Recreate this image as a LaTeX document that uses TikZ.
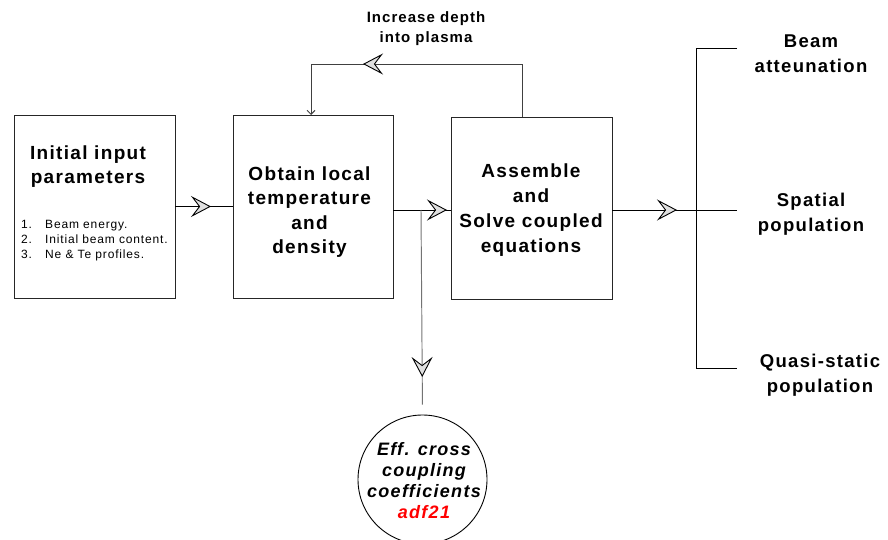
\documentclass[tikz,border=0pt]{standalone}
\usepackage{fontspec}
\setmainfont{Liberation Sans}
\newfontfamily\lsp{Liberation Sans}[LetterSpace=7]
\usetikzlibrary{arrows.meta,decorations.markings}
\begin{document}
\begin{tikzpicture}[x=1pt,y=-1pt,
  hd/.tip={Stealth[length=20pt,width=21pt,inset=8pt,color=black,fill=black!12,line width=0.9pt]},
  box/.style={draw=black!85,line width=0.95pt,rectangle,inner sep=0pt,outer sep=0pt},
  conn/.style={draw=black,line width=0.95pt},
  midarrow/.style={postaction={decorate},decoration={markings,mark=at position #1 with {\arrow{hd}}}},
  big/.style={font=\lsp\bfseries\fontsize{19}{24.5}\selectfont,align=center,inner sep=0pt,anchor=base},
  side/.style={font=\lsp\bfseries\fontsize{18.5}{25}\selectfont,align=center,inner sep=0pt,anchor=base},
  lbl/.style={font=\lsp\bfseries\fontsize{15}{20}\selectfont,align=center,inner sep=0pt,anchor=base},
  lst/.style={font=\lsp\fontsize{12}{15}\selectfont,align=left,inner sep=0pt,anchor=base west},
  circtxt/.style={font=\lsp\bfseries\itshape\fontsize{18}{21}\selectfont,align=center,inner sep=0pt,anchor=base}
]
\useasboundingbox (0,0) rectangle (888,540);

% boxes
\node[box,minimum width=161pt,minimum height=183pt] (b1) at (94.5,206.5) {};
\node[box,minimum width=160pt,minimum height=183pt] (b2) at (313,206.5) {};
\node[box,minimum width=161pt,minimum height=182pt] (b3) at (531.5,208) {};
\node[draw=black,line width=0.9pt,circle,minimum size=129pt,inner sep=0pt] (circ) at (422.5,479.5) {};

% texts (anchor = baseline of the last line)
\node[big] (t1) at (88,184) {Initial input\\parameters};
\node[lst] (l1) at (21,258) {\makebox[24pt][l]{1.}Beam energy.\\\makebox[24pt][l]{2.}Initial beam content.\\\makebox[24pt][l]{3.}Ne \& Te profiles.};
\node[big] (t2) at (309.5,253.5) {Obtain local\\temperature\\and\\density};
\node[big,font=\lsp\bfseries\fontsize{19}{25}\selectfont] (t3) at (531,252) {Assemble\\and\hspace*{15pt}\\Solve coupled\\equations};
\node[lbl] (fbl) at (426,43) {Increase depth\\into plasma};
\node[circtxt] (ct) at (424,518) {Eff. cross\\coupling\\coefficients\\{\color{red}adf21}};
\node[side] (o1) at (811,73) {Beam\\atteunation};
\node[side] (o2) at (811,231) {Spatial\\population};
\node[side] (o3) at (820,392) {Quasi-static\\population};

% coordinates
\coordinate (fbR) at (522,64);
\coordinate (fbL) at (311,64);
\coordinate (jn) at (421,210);
\coordinate (oe) at (737,210);
\coordinate (bt) at (737,48);
\coordinate (bb) at (737,368);
\coordinate (bx1) at (696,48);
\coordinate (bx2) at (696,368);

% connectors
\draw[conn,midarrow=36pt] (b1.east) -- (b2.west);
\draw[conn,midarrow=54pt] (b2.east |- jn) -- (b3.west |- jn);
\draw[draw=black!55,line width=0.95pt,shorten >=10pt,midarrow=167pt] (jn) -- (circ.north);
\draw[draw=black!75,line width=0.95pt,-{Straight Barb[length=4pt,width=8pt]}] (fbR |- b3.north) -- (fbR) -- (fbL) -- (fbL |- b2.north);
\path[midarrow=159pt] (fbR) -- (fbL);
\draw[conn,midarrow=65pt] (b3.east |- oe) -- (oe);
\draw[conn] (bt) -- (bx1) -- (bx2) -- (bb);
\end{tikzpicture}
\end{document}
